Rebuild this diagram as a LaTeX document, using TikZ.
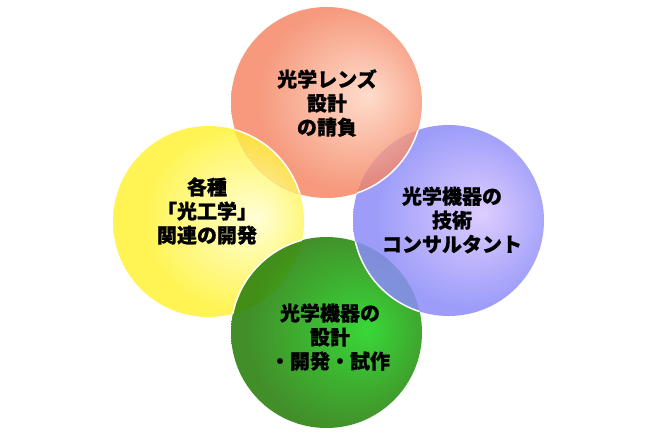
\documentclass[tikz,border=0pt]{standalone}
\usepackage{fontspec}
\newfontfamily\jpfont{Noto Sans CJK JP}[BoldFeatures={FakeBold=0.7}]
\definecolor{salmonout}{RGB}{244,128,92}
\definecolor{salmonin}{RGB}{255,212,192}
\definecolor{blueout}{RGB}{140,140,249}
\definecolor{bluein}{RGB}{216,196,255}
\definecolor{greenout}{RGB}{40,128,12}
\definecolor{greenin}{RGB}{30,210,30}
\definecolor{yellowout}{RGB}{255,242,40}
\definecolor{yellowin}{RGB}{255,255,205}
\pgfdeclareradialshading{salmonsh}{\pgfpoint{11bp}{2bp}}{color(0bp)=(salmonin); color(24bp)=(salmonout); color(50bp)=(salmonout)}
\pgfdeclareradialshading{bluesh}{\pgfpoint{9bp}{2bp}}{color(0bp)=(bluein); color(24bp)=(blueout); color(50bp)=(blueout)}
\pgfdeclareradialshading{greensh}{\pgfpoint{11bp}{1bp}}{color(0bp)=(greenin); color(26bp)=(greenout); color(50bp)=(greenout)}
\pgfdeclareradialshading{yellowsh}{\pgfpoint{13bp}{1bp}}{color(0bp)=(yellowin); color(24bp)=(yellowout); color(50bp)=(yellowout)}
\tikzset{
  lbl/.style={font=\jpfont\bfseries\fontsize{20}{24}\selectfont, align=center, text=black, inner sep=0pt},
  rim/.style={draw=white, line width=1.5pt},
  disc/.style={fill opacity=0.8},
}
\begin{document}
\begin{tikzpicture}[x=1pt,y=-1pt]
\useasboundingbox (0,0) rectangle (670,440);
\fill[white] (0,0) rectangle (670,440);
\def\R{95.5}
\coordinate (cs) at (326.5,102.5);
\coordinate (cb) at (448.5,220.5);
\coordinate (cg) at (326.5,332.5);
\coordinate (cy) at (208.5,221.5);
% discs: yellow, green, blue, salmon
\shade[shading=yellowsh, disc] (cy) circle (\R);
\shade[shading=greensh, disc, fill opacity=0.88] (cg) circle (\R);
\shade[shading=bluesh, disc, fill opacity=0.85] (cb) circle (\R);
\shade[shading=salmonsh, disc] (cs) circle (\R);
% yellow over salmon in their overlap
\begin{scope}
  \clip (cy) circle (\R);
  \clip (cs) circle (\R);
  \fill[white] (cs) circle (\R+2);
  \shade[shading=salmonsh, disc] (cs) circle (\R);
  \shade[shading=yellowsh, disc] (cy) circle (\R);
\end{scope}
% white rims where a disc lies on top
\begin{scope}
  \clip (cs) circle (\R);
  \draw[rim] (cy) circle (\R);
\end{scope}
\begin{scope}
  \clip (cy) circle (\R);
  \draw[rim] (cg) circle (\R);
\end{scope}
\begin{scope}
  \clip (cg) circle (\R);
  \draw[rim] (cb) circle (\R);
\end{scope}
\begin{scope}
  \clip (cb) circle (\R);
  \draw[rim] (cs) circle (\R);
\end{scope}
% labels
\node[lbl] (ts) at (327,103) {光学レンズ\\設計\\の請負};
\node[lbl] (tb) at (452,220) {光学機器の\\技術\\コンサルタント};
\node[lbl] (tg) at (330,337) {光学機器の\\設計\\・開発・試作};
\node[lbl] (ty) at (207,211) {各種\\「光工学」\\関連の開発};
\end{tikzpicture}
\end{document}
